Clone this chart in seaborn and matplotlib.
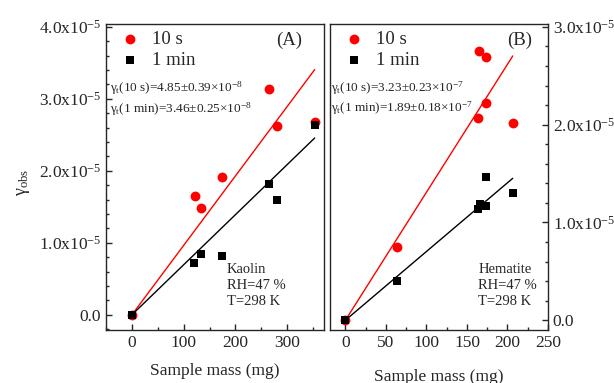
import numpy as np
import pandas as pd
import matplotlib
matplotlib.use("Agg")
import matplotlib.pyplot as plt
from matplotlib.ticker import MultipleLocator, FuncFormatter
import seaborn as sns

# ---------------- data ----------------
kaolin_mass = [0, 122, 133.5, 174.7, 265, 280, 353]
kaolin_10s = [0, 1.65e-5, 1.49e-5, 1.92e-5, 3.14e-5, 2.63e-5, 2.68e-5]
kaolin_mass_1min = [0, 120.5, 133.5, 174.7, 265, 280, 353]
kaolin_1min = [0, 0.72e-5, 0.84e-5, 0.82e-5, 1.82e-5, 1.60e-5, 2.64e-5]
kaolin_slope_10s = 9.65e-8
kaolin_slope_1min = 6.96e-8

hem_mass_10s = [0, 63.7, 165, 172.9, 174, 163.4, 206.5]
hem_10s = [0, 0.75e-5, 2.75e-5, 2.69e-5, 2.22e-5, 2.07e-5, 2.02e-5]
hem_mass_1min = [0, 63.7, 163.4, 165.5, 174, 172.9, 206.5]
hem_1min = [0, 0.40e-5, 1.14e-5, 1.19e-5, 1.17e-5, 1.46e-5, 1.30e-5]
hem_slope_10s = 1.309e-7
hem_slope_1min = 7.03e-8

series_labels = ["10 s", "1 min"]
text_A = ["γ$_\\mathregular{t}$(10 s)=4.85±0.39×10$^\\mathregular{-8}$",
          "γ$_\\mathregular{t}$(1 min)=3.46±0.25×10$^\\mathregular{-8}$"]
text_B = ["γ$_\\mathregular{t}$(10 s)=3.23±0.23×10$^\\mathregular{-7}$",
          "γ$_\\mathregular{t}$(1 min)=1.89±0.18×10$^\\mathregular{-7}$"]
cond_A = "Kaolin\nRH=47 %\nT=298 K"
cond_B = "Hematite\nRH=47 %\nT=298 K"

# ---------------- style ----------------
sns.set_theme(style="ticks")
plt.rcParams["font.family"] = ["Liberation Serif", "DejaVu Serif"]
plt.rcParams["mathtext.fontset"] = "custom"
plt.rcParams["mathtext.rm"] = "Liberation Serif"
plt.rcParams["mathtext.it"] = "Liberation Serif:italic"
plt.rcParams["mathtext.default"] = "regular"
plt.rcParams["axes.linewidth"] = 1.0

fig = plt.figure(figsize=(6.14, 3.83), dpi=100)
axA = fig.add_axes([0.1726, 0.1384, 0.3551, 0.7989])
axB = fig.add_axes([0.5375, 0.1384, 0.3550, 0.7989])


def sci_fmt(v, pos):
    if abs(v) < 1e-12:
        return "0.0"
    return "%.1fx10$^{-5}$" % (v / 1e-5)


def draw(ax, m10, y10, m1, y1, s10, s1):
    d10 = pd.DataFrame({"mass": m10, "g": y10})
    d1 = pd.DataFrame({"mass": m1, "g": y1})
    xmax = max(max(m10), max(m1))
    fit10 = pd.DataFrame({"mass": [0, xmax], "g": [0, s10 * xmax]})
    fit1 = pd.DataFrame({"mass": [0, xmax], "g": [0, s1 * xmax]})
    sns.lineplot(data=fit10, x="mass", y="g", ax=ax, color="red", lw=1.0, zorder=2)
    sns.lineplot(data=fit1, x="mass", y="g", ax=ax, color="black", lw=1.0, zorder=2)
    sns.scatterplot(data=d10, x="mass", y="g", ax=ax, color="red", marker="o",
                    s=50, edgecolor="red", linewidth=0, label=series_labels[0], zorder=3)
    sns.scatterplot(data=d1, x="mass", y="g", ax=ax, color="black", marker="s",
                    s=38, edgecolor="black", linewidth=0, label=series_labels[1], zorder=4)
    ax.legend(loc="upper left", frameon=False, fontsize=13.5, handletextpad=0.7,
              labelspacing=0.2, borderaxespad=0.3, handlelength=1.0,
              bbox_to_anchor=(0.005, 1.02))
    ax.set_xlabel("Sample mass (mg)", fontsize=12.5)
    ax.yaxis.set_major_locator(MultipleLocator(1e-5))
    ax.yaxis.set_minor_locator(MultipleLocator(0.2e-5))
    ax.yaxis.set_major_formatter(FuncFormatter(sci_fmt))
    ax.tick_params(which="both", direction="in", labelsize=12.5, width=1.0)
    ax.tick_params(which="major", length=4.5)
    ax.tick_params(which="minor", length=2.5)


draw(axA, kaolin_mass, kaolin_10s, kaolin_mass_1min, kaolin_1min,
     kaolin_slope_10s, kaolin_slope_1min)
draw(axB, hem_mass_10s, hem_10s, hem_mass_1min, hem_1min,
     hem_slope_10s, hem_slope_1min)

# Panel A axes
axA.set_xlim(-50, 371)
axA.set_ylim(-0.21e-5, 4.04e-5)
axA.xaxis.set_major_locator(MultipleLocator(100))
axA.xaxis.set_minor_locator(MultipleLocator(50))
axA.set_ylabel("γ$_\\mathregular{obs}$", fontsize=13)
axA.yaxis.set_label_coords(-0.34, 0.484)
axA.tick_params(which="both", right=False, top=False, left=True, bottom=True)
axA.xaxis.set_label_coords(0.5, -0.108)

# Panel B axes
axB.set_xlim(-19, 250)
axB.set_ylim(-0.1e-5, 3.03e-5)
axB.xaxis.set_major_locator(MultipleLocator(50))
axB.xaxis.set_minor_locator(MultipleLocator(25))
axB.yaxis.tick_right()
axB.yaxis.set_label_position("right")
axB.set_ylabel("")
axB.tick_params(which="both", left=False, right=True, top=False, bottom=True,
                labelleft=False, labelright=True)
axB.xaxis.set_label_coords(0.5, -0.128)

# annotations
axA.text(0.018, 0.791, text_A[0], transform=axA.transAxes, fontsize=9.5, va="center")
axA.text(0.018, 0.722, text_A[1], transform=axA.transAxes, fontsize=9.5, va="center")
axB.text(0.005, 0.79, text_B[0], transform=axB.transAxes, fontsize=9.5, va="center")
axB.text(0.005, 0.725, text_B[1], transform=axB.transAxes, fontsize=9.5, va="center")
axA.text(0.84, 0.948, "(A)", transform=axA.transAxes, fontsize=13.5, ha="center", va="center")
axB.text(0.87, 0.948, "(B)", transform=axB.transAxes, fontsize=13.5, ha="center", va="center")
axA.text(0.555, 0.147, cond_A, transform=axA.transAxes, fontsize=10.5, va="center",
         linespacing=1.3)
axB.text(0.68, 0.147, cond_B, transform=axB.transAxes, fontsize=10.5, va="center",
         linespacing=1.3)

fig.savefig("out.png", dpi=100)
